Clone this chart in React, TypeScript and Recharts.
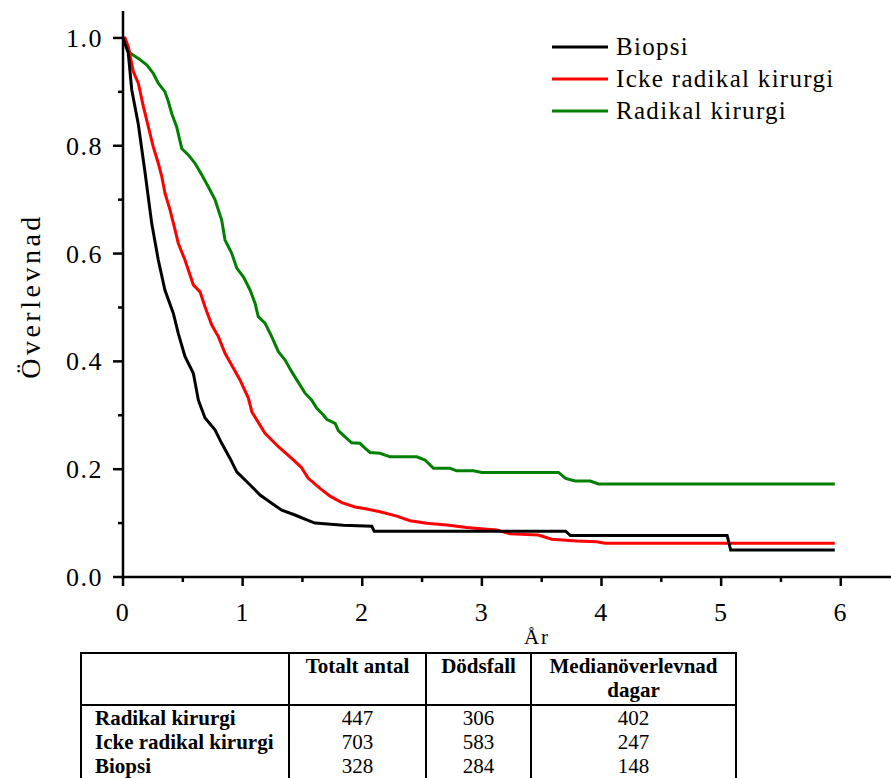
import React from "react";
import { Line, LineChart, XAxis, YAxis } from "recharts";

// survival curves: [years, survival]
const biopsi: Array<[number, number]> = [
  [0, 1.0], [0.044, 0.972], [0.073, 0.904], [0.128, 0.84], [0.184, 0.751],
  [0.24, 0.656], [0.295, 0.588], [0.351, 0.532], [0.421, 0.489], [0.462, 0.452],
  [0.518, 0.409], [0.588, 0.378], [0.63, 0.328], [0.686, 0.295], [0.769, 0.273],
  [0.825, 0.248], [0.895, 0.22], [0.951, 0.195], [1.048, 0.174], [1.146, 0.152],
  [1.243, 0.137], [1.327, 0.124], [1.438, 0.115], [1.536, 0.106], [1.605, 0.1],
  [1.842, 0.096], [2.08, 0.094], [2.1, 0.085], [3.7, 0.085], [3.74, 0.077],
  [5.05, 0.077], [5.08, 0.05], [5.95, 0.05],
];

const ickeRadikal: Array<[number, number]> = [
  [0, 1.0], [0.017, 1.0], [0.044, 0.984], [0.086, 0.9375], [0.128, 0.916],
  [0.17, 0.873], [0.212, 0.835], [0.253, 0.798], [0.295, 0.7675], [0.324, 0.743],
  [0.351, 0.712], [0.393, 0.681], [0.435, 0.644], [0.462, 0.619], [0.518, 0.588],
  [0.588, 0.542], [0.644, 0.529], [0.686, 0.501], [0.742, 0.4675], [0.797, 0.446],
  [0.853, 0.415], [0.909, 0.393], [0.978, 0.3655], [1.048, 0.332], [1.078, 0.306],
  [1.187, 0.2666], [1.299, 0.2417], [1.41, 0.22], [1.488, 0.204], [1.549, 0.183],
  [1.647, 0.1645], [1.731, 0.15], [1.829, 0.138], [1.94, 0.13], [2.038, 0.126],
  [2.149, 0.121], [2.289, 0.113], [2.4, 0.1045], [2.539, 0.0996], [2.707, 0.0965],
  [2.874, 0.092], [3.04, 0.0885], [3.124, 0.087], [3.236, 0.08], [3.472, 0.078],
  [3.584, 0.07], [3.793, 0.067], [3.961, 0.0655], [4.03, 0.0625], [5.95, 0.0625],
];

const radikal: Array<[number, number]> = [
  [0, 1.0], [0.059, 0.972], [0.128, 0.962], [0.198, 0.95], [0.253, 0.9345],
  [0.295, 0.916], [0.351, 0.9], [0.379, 0.882], [0.407, 0.86], [0.449, 0.835],
  [0.491, 0.795], [0.546, 0.783], [0.602, 0.7675], [0.658, 0.746], [0.713, 0.724],
  [0.769, 0.7], [0.825, 0.662], [0.853, 0.625], [0.909, 0.6005], [0.951, 0.573],
  [1.006, 0.557], [1.062, 0.5325], [1.104, 0.508], [1.131, 0.483], [1.187, 0.471],
  [1.243, 0.446], [1.299, 0.418], [1.355, 0.4026], [1.41, 0.381], [1.48, 0.356],
  [1.522, 0.341], [1.578, 0.328], [1.62, 0.313], [1.675, 0.3006], [1.703, 0.2926],
  [1.773, 0.285], [1.8, 0.2715], [1.856, 0.26], [1.912, 0.249], [1.98, 0.248],
  [2.023, 0.239], [2.065, 0.231], [2.149, 0.2295], [2.232, 0.223], [2.456, 0.223],
  [2.525, 0.217], [2.595, 0.2017], [2.734, 0.2017], [2.79, 0.197], [2.929, 0.197],
  [3.0, 0.194], [3.64, 0.194], [3.7, 0.183], [3.78, 0.178], [3.905, 0.178],
  [3.974, 0.1725], [5.95, 0.1725],
];

const xTicks = [0, 0.5, 1, 1.5, 2, 2.5, 3, 3.5, 4, 4.5, 5, 5.5, 6];
const yTicks = [0, 0.1, 0.2, 0.3, 0.4, 0.5, 0.6, 0.7, 0.8, 0.9, 1.0];

const groups = ["Radikal kirurgi", "Icke radikal kirurgi", "Biopsi"];
const totals = [447, 703, 328];
const deaths = [306, 583, 284];
const medians = [402, 247, 148];

const serif = "Liberation Serif, serif";

const series = [
  { name: "Biopsi", color: "#000000", points: biopsi },
  { name: "Icke radikal kirurgi", color: "#ff0000", points: ickeRadikal },
  { name: "Radikal kirurgi", color: "#008000", points: radikal },
];

const toRows = (pts: Array<[number, number]>) => pts.map(([t, s]) => ({ t, s }));

const XTick = ({ x, y, payload }: any) => {
  const major = Number.isInteger(payload.value);
  return (
    <g>
      <line x1={x} x2={x} y1={y} y2={y + (major ? 9 : 5)} stroke="#000" strokeWidth={2.5} />
      {major && (
        <text x={x} y={y + 44} textAnchor="middle" style={{ fontFamily: serif }} fontSize={26} letterSpacing={1.5} fill="#000">
          {payload.value}
        </text>
      )}
    </g>
  );
};

const YTick = ({ x, y, payload }: any) => {
  const major = Math.round(payload.value * 10) % 2 === 0;
  return (
    <g>
      <line x1={x - (major ? 10 : 5)} x2={x} y1={y} y2={y} stroke="#000" strokeWidth={2.5} />
      {major && (
        <text x={x - 20} y={y + 9} textAnchor="end" style={{ fontFamily: serif }} fontSize={26} letterSpacing={1.5} fill="#000">
          {payload.value.toFixed(1)}
        </text>
      )}
    </g>
  );
};

const YLabel = () => (
  <text x={40} y={296} transform="rotate(-90 40 296)" textAnchor="middle" style={{ fontFamily: serif }} fontSize={28} letterSpacing={3.5} fill="#000">
    Överlevnad
  </text>
);

const XLabel = () => (
  <text x={537} y={644} textAnchor="middle" style={{ fontFamily: serif }} fontSize={21} letterSpacing={2} fill="#000">
    År
  </text>
);

const cell = { borderLeft: "2px solid #000", padding: 0 };

export default function App() {
  return (
    <div style={{ position: "absolute", left: 0, top: 0, width: 891, height: 778, overflow: "hidden", background: "#fff", fontFamily: serif }}>
      <LineChart width={891} height={660} margin={{ top: 11, right: 0, bottom: 0, left: 0 }}>
        <XAxis
          type="number"
          dataKey="t"
          domain={[0, 6.42]}
          ticks={xTicks}
          interval={0}
          allowDataOverflow
          height={83}
          tickSize={0}
          tickMargin={0}
          tickLine={false}
          tick={<XTick />}
          axisLine={{ stroke: "#000", strokeWidth: 2.5 }}
          label={<XLabel />}
        />
        <YAxis
          type="number"
          domain={[0, 1.05]}
          ticks={yTicks}
          interval={0}
          allowDataOverflow
          width={123}
          tickSize={0}
          tickMargin={0}
          tickLine={false}
          tick={<YTick />}
          axisLine={{ stroke: "#000", strokeWidth: 2.5 }}
          label={<YLabel />}
        />
        {[...series].reverse().map((sr) => (
          <Line
            key={sr.name}
            data={toRows(sr.points)}
            dataKey="s"
            type="linear"
            stroke={sr.color}
            strokeWidth={3}
            dot={false}
            activeDot={false}
            isAnimationActive={false}
          />
        ))}
      </LineChart>

      <div style={{ position: "absolute", left: 552, top: 31 }}>
        {series.map((sr) => (
          <div key={sr.name} style={{ display: "flex", alignItems: "center", height: 32 }}>
            <svg width={56} height={6} style={{ display: "block" }}>
              <line x1={0} x2={56} y1={3} y2={3} stroke={sr.color} strokeWidth={3} />
            </svg>
            <span style={{ marginLeft: 8, fontSize: 25, letterSpacing: 1.3, whiteSpace: "nowrap" }}>{sr.name}</span>
          </div>
        ))}
      </div>

      <table
        style={{
          position: "absolute",
          left: 80,
          top: 652,
          width: 655,
          tableLayout: "fixed",
          borderCollapse: "collapse",
          border: "2px solid #000",
          fontFamily: serif,
          fontSize: 21,
          lineHeight: "24px",
        }}
      >
        <colgroup>
          <col style={{ width: 208 }} />
          <col style={{ width: 137 }} />
          <col style={{ width: 105 }} />
          <col style={{ width: 205 }} />
        </colgroup>
        <thead>
          <tr style={{ borderBottom: "2px solid #000", height: 52 }}>
            <th style={{ padding: 0 }}></th>
            <th style={{ ...cell, verticalAlign: "top" }}>Totalt antal</th>
            <th style={{ ...cell, verticalAlign: "top" }}>Dödsfall</th>
            <th style={{ ...cell, verticalAlign: "top" }}>
              Medianöverlevnad
              <br />
              dagar
            </th>
          </tr>
        </thead>
        <tbody>
          {groups.map((g, i) => (
            <tr key={g}>
              <td style={{ padding: "0 0 0 13px", fontWeight: "bold", whiteSpace: "nowrap" }}>{g}</td>
              <td style={{ ...cell, textAlign: "center" }}>{totals[i]}</td>
              <td style={{ ...cell, textAlign: "center" }}>{deaths[i]}</td>
              <td style={{ ...cell, textAlign: "center" }}>{medians[i]}</td>
            </tr>
          ))}
        </tbody>
      </table>
    </div>
  );
}
